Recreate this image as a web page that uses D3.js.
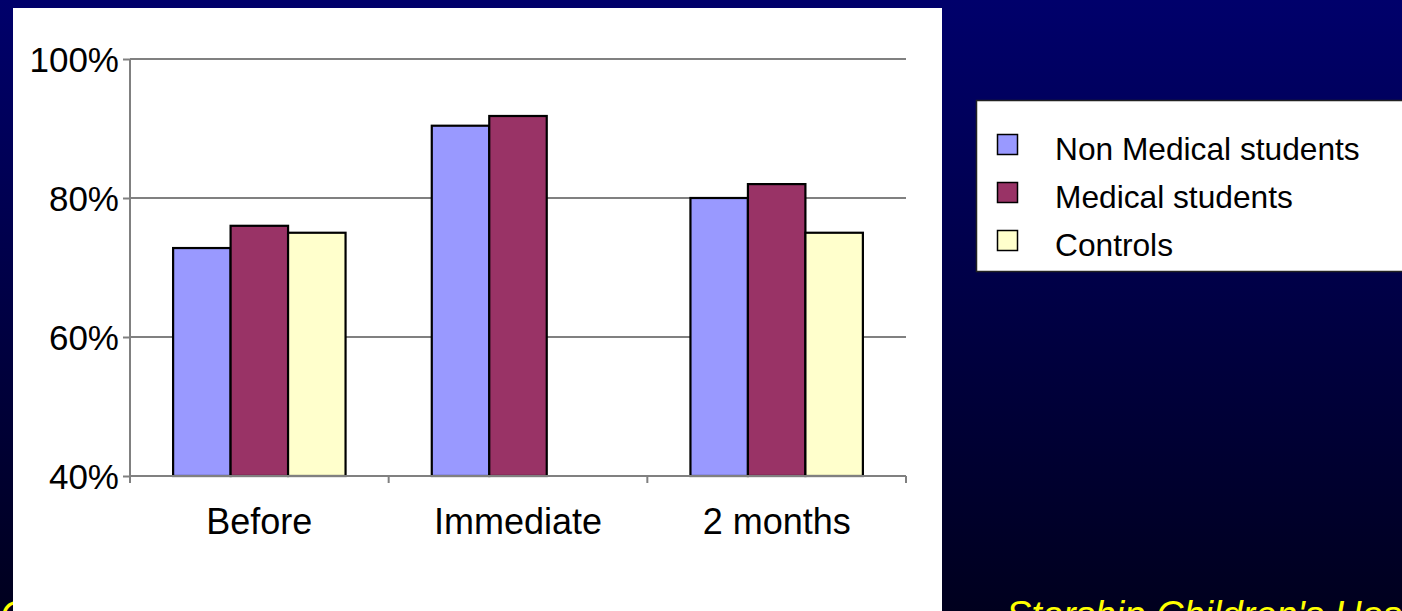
<!DOCTYPE html>
<html><head><meta charset="utf-8">
<script src="https://cdn.jsdelivr.net/npm/d3@7"></script>
<style>html,body{margin:0;padding:0;overflow:hidden;background:#000040}</style>
</head><body>
<script>
const categories = ["Before", "Immediate", "2 months"];
const seriesNames = ["Non Medical students", "Medical students", "Controls"];
const nonMedical = [72.8, 90.4, 80];
const medical = [76, 91.8, 82];
const controls = [75, null, 75];
const seriesColors = ["#9999FF", "#993366", "#FFFFCC"];
const yTicks = [40, 60, 80, 100];

const W = 1402, H = 611;
const svg = d3.select("body").append("svg").attr("width", W).attr("height", H);
const defs = svg.append("defs");
const grad = defs.append("linearGradient").attr("id","bg").attr("x1",0).attr("y1",0).attr("x2",0).attr("y2",1);
grad.append("stop").attr("offset","0%").attr("stop-color","#00006B");
grad.append("stop").attr("offset","100%").attr("stop-color","#00001E");
svg.append("rect").attr("width",W).attr("height",H).attr("fill","url(#bg)");

const font = "'Liberation Sans', Arial, sans-serif";
// footer yellow italic text (cut by the bottom edge as in the reference)
svg.append("text").attr("x",0).attr("y",628).attr("fill","#FFFF00").attr("font-family",font)
  .attr("font-style","italic").attr("font-size",38).text("C");
svg.append("text").attr("x",1006).attr("y",628).attr("fill","#FFFF00").attr("font-family",font)
  .attr("font-style","italic").attr("font-size",38).text("Starship Children's Hospital");

// white panel
svg.append("rect").attr("x",13).attr("y",8).attr("width",929).attr("height",H).attr("fill","#fff");

const series = [nonMedical, medical, controls];
const x0 = d3.scaleBand().domain(categories).range([130, 906]).paddingInner(1/3).paddingOuter(1/6);
const x1 = d3.scaleBand().domain(d3.range(seriesNames.length)).range([0, x0.bandwidth()]);
const y = d3.scaleLinear().domain([40, 100]).range([476, 59]);

// gridlines
svg.append("g").selectAll("line").data(yTicks.slice(1)).join("line")
  .attr("x1",130).attr("x2",906).attr("y1",d=>y(d)).attr("y2",d=>y(d))
  .attr("stroke","#808080").attr("stroke-width",2);

// bars
const g = svg.append("g");
categories.forEach((c, ci) => {
  series.forEach((s, si) => {
    if (s[ci] == null) return;
    g.append("rect")
      .attr("x", x0(c) + x1(si))
      .attr("y", y(s[ci]))
      .attr("width", x1.bandwidth())
      .attr("height", y(40) - y(s[ci]))
      .attr("fill", seriesColors[si])
      .attr("stroke", "#000").attr("stroke-width", 2.2);
  });
});

// y axis
const yAxis = d3.axisLeft(y).tickValues(yTicks).tickSize(7).tickPadding(4).tickFormat(d => d + "%");
const ya = svg.append("g").attr("transform","translate(130,0)").call(yAxis);
ya.select(".domain").attr("stroke","#808080").attr("stroke-width",2).attr("d","M0,"+y(100)+"V"+y(40));
ya.selectAll(".tick line").attr("stroke","#808080").attr("stroke-width",2);
ya.selectAll(".tick text").attr("font-family",font).attr("font-size",35).attr("fill","#000").attr("dy","0.36em");

// x axis
const xa = svg.append("g").attr("transform","translate(0,"+y(40)+")");
xa.append("line").attr("x1",130).attr("x2",906).attr("stroke","#808080").attr("stroke-width",2);
const step = x0.step();
const bounds = categories.map(c => x0(c) - step * x0.paddingInner() / 2).concat([906]);
xa.selectAll("line.tk").data(bounds).join("line").attr("class","tk")
  .attr("x1",d=>d).attr("x2",d=>d).attr("y1",0).attr("y2",7)
  .attr("stroke","#808080").attr("stroke-width",2);
xa.selectAll("text").data(categories).join("text")
  .attr("x", c => x0(c) + x0.bandwidth()/2).attr("y", 58)
  .attr("text-anchor","middle").attr("font-family",font).attr("font-size",36).attr("fill","#000")
  .text(c => c);

// legend
const lg = svg.append("g");
lg.append("rect").attr("x",976.5).attr("y",100.5).attr("width",440).attr("height",171)
  .attr("fill","#fff").attr("stroke","#222").attr("stroke-width",1.5);
seriesNames.forEach((n, i) => {
  const by = 160 + i * 48;
  lg.append("rect").attr("x",997.5).attr("y",by-25.5).attr("width",20).attr("height",20)
    .attr("fill",seriesColors[i]).attr("stroke","#000").attr("stroke-width",1.5);
  lg.append("text").attr("x",1055).attr("y",by).attr("font-family",font).attr("font-size",31.7)
    .attr("fill","#000").text(n);
});
</script>
</body></html>
